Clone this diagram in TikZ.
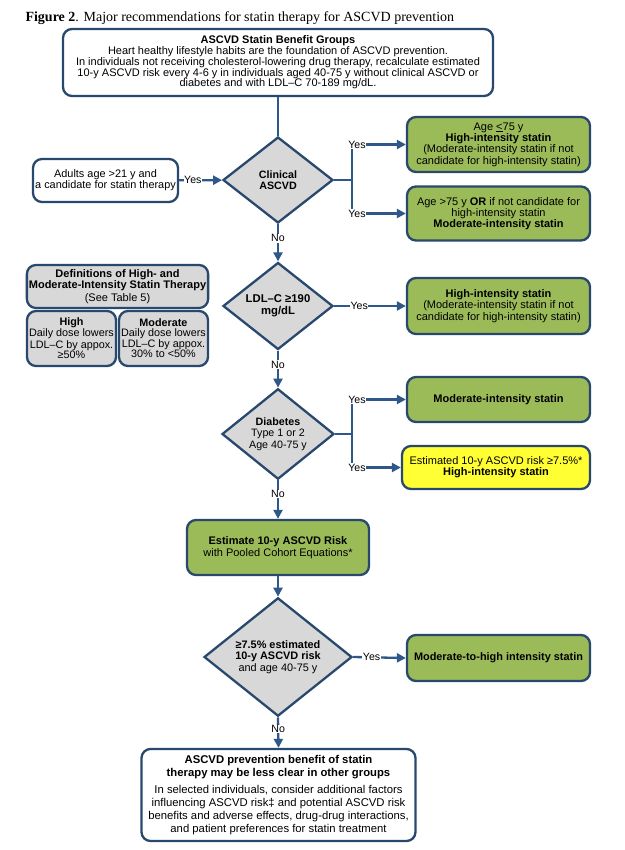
\documentclass[tikz,border=0pt]{standalone}
\usepackage{fontspec}
\setmainfont{Liberation Sans}
\newfontfamily\titlefont{Liberation Serif}
\usetikzlibrary{shapes.geometric, arrows.meta}
\definecolor{boxblue}{RGB}{40,72,110}
\definecolor{lineblue}{RGB}{46,88,138}
\definecolor{statgreen}{RGB}{155,187,89}
\definecolor{diagray}{RGB}{216,216,216}
\definecolor{riskyellow}{RGB}{255,255,51}
\newcommand{\boxfont}{\fontsize{10.9}{11.2}\selectfont}
\newcommand{\greenfont}{\fontsize{11}{11.2}\selectfont}
\newcommand{\decfont}{\fontsize{10.7}{11.4}\selectfont}
\tikzset{
	box/.style={draw=boxblue, line width=2.3pt, rounded corners=9pt, align=center, inner sep=2pt, font=\boxfont},
	whitebox/.style={box, fill=white},
	graybox/.style={box, fill=diagray},
	greenbox/.style={box, fill=statgreen, minimum width=183pt, font=\greenfont},
	yellowbox/.style={box, fill=riskyellow, font=\greenfont},
	decision/.style={diamond, draw=boxblue, line width=2.3pt, fill=diagray, inner sep=0pt, align=center, font=\decfont},
	flow/.style={draw=lineblue, line width=2.3pt},
	flowarrow/.style={flow, -{Triangle[length=9pt, width=9pt]}},
	lbl/.style={fill=white, inner sep=0.6pt, font=\fontsize{10.6}{11}\selectfont},
	forklbl/.style={lbl, pos=0.5, xshift=5pt}
}

\begin{document}
\begin{tikzpicture}[x=1pt, y=-1pt]
	\useasboundingbox[fill=white] (0,0) rectangle (624,850);
	\node[anchor=west, font=\titlefont\fontsize{14}{16}\selectfont] (title) at (22,18) {\textbf{Figure 2}. Major recommendations for statin therapy for ASCVD prevention};

	\node[whitebox, minimum width=430pt, minimum height=67pt, font=\fontsize{11}{10.8}\selectfont] (groups) at (278,62.5) {\textbf{ASCVD Statin Benefit Groups}\\Heart healthy lifestyle habits are the foundation of ASCVD prevention.\\In individuals not receiving cholesterol-lowering drug therapy, recalculate estimated\\10-y ASCVD risk every 4-6 y in individuals aged 40-75 y without clinical ASCVD or\\diabetes and with LDL–C 70-189 mg/dL.};
	\node[whitebox, minimum width=145pt, minimum height=43pt] (adults) at (105.5,180.5) {Adults age >21 y and\\a candidate for statin therapy};
	\node[decision, minimum width=110pt, minimum height=86pt] (clinical) at (278,180) {\textbf{Clinical}\\\textbf{ASCVD}};
	\node[greenbox, minimum height=55pt, font=\fontsize{11}{11.4}\selectfont] (highage) at (498.5,144.5) {Age \underline{<}75 y\\\textbf{High-intensity statin}\\(Moderate-intensity statin if not\\candidate for high-intensity statin)};
	\node[greenbox, minimum height=54pt] (modage) at (498.5,213.5) {Age >75 y \textbf{OR} if not candidate for\\high-intensity statin\\\textbf{Moderate-intensity statin}};

	\node[graybox, minimum width=181pt, minimum height=43pt, font=\fontsize{11}{10}\selectfont] (defs) at (117.5,286.5) {\textbf{Definitions of High- and}\\\textbf{Moderate-Intensity Statin Therapy}\\[1pt](See Table 5)};
	\node[graybox, minimum width=89pt, minimum height=55pt, inner sep=0.5pt, font=\fontsize{10.8}{9.2}\selectfont] (high) at (71.5,338.5) {\textbf{High}\\Daily dose lowers\\LDL–C by appox.\\≥50\%};
	\node[graybox, minimum width=89pt, minimum height=55pt, inner sep=0.5pt, font=\fontsize{10.8}{9.2}\selectfont] (moderate) at (163.5,338.5) {\textbf{Moderate}\\Daily dose lowers\\LDL–C by appox.\\30\% to <50\%};
	\node[decision, minimum width=110pt, minimum height=87pt, font=\fontsize{11.3}{12}\selectfont] (ldl) at (278,306) {\textbf{LDL–C ≥190}\\\textbf{mg/dL}};
	\node[greenbox, minimum height=56pt] (highldl) at (498.5,306) {\textbf{High-intensity statin}\\(Moderate-intensity statin if not\\candidate for high-intensity statin)};

	\node[decision, minimum width=112pt, minimum height=88pt] (diabetes) at (278,434) {\textbf{Diabetes}\\Type 1 or 2\\Age 40-75 y};
	\node[greenbox, minimum height=45pt] (moddiab) at (498.5,399.5) {\textbf{Moderate-intensity statin}};
	\node[yellowbox, minimum width=188pt, minimum height=43pt] (highdiab) at (496,467.5) {Estimated 10-y ASCVD risk ≥7.5\%*\\\textbf{High-intensity statin}};

	\node[greenbox, minimum width=182pt, minimum height=55pt, font=\fontsize{11}{11.4}\selectfont] (estimate) at (278,547.5) {\textbf{Estimate 10-y ASCVD Risk}\\with Pooled Cohort Equations*};
	\node[decision, minimum width=148pt, minimum height=118pt, font=\fontsize{10.9}{11.4}\selectfont] (risk) at (278,657) {\textbf{≥7.5\% estimated}\\\textbf{10-y ASCVD risk}\\and age 40-75 y};
	\node[greenbox, minimum height=46pt, font=\fontsize{10.9}{11}\selectfont] (modhigh) at (498.5,658) {\textbf{Moderate-to-high intensity statin}};
	\node[whitebox, minimum width=274pt, minimum height=92pt, font=\fontsize{11.3}{12.9}\selectfont] (other) at (278.5,795) {\textbf{ASCVD prevention benefit of statin}\\[0.4pt]\textbf{therapy may be less clear in other groups}\\[3.6pt]In selected individuals, consider additional factors\\influencing ASCVD risk‡ and potential ASCVD risk\\benefits and adverse effects, drug-drug interactions,\\and patient preferences for statin treatment};

	\coordinate (fork1) at (352,180);
	\coordinate (fork2) at (352,434);

	\draw[flow] (groups) -- (clinical);
	\draw[flowarrow] (adults) -- node[lbl, pos=0.32]{Yes} (clinical);
	\draw[flow] (clinical.east) -- (fork1);
	\draw[flowarrow] (fork1) |- node[forklbl]{Yes} (highage.west);
	\draw[flowarrow] (fork1) |- node[forklbl]{Yes} (modage.west);
	\draw[flowarrow] (clinical.south) -- node[lbl, pos=0.38]{No} (ldl.north);
	\draw[flowarrow] (ldl.east) -- node[lbl, pos=0.35]{Yes} (highldl.west);
	\draw[flowarrow] (ldl.south) -- node[lbl, pos=0.38]{No} (diabetes.north);
	\draw[flow] (diabetes.east) -- (fork2);
	\draw[flowarrow] (fork2) |- node[forklbl]{Yes} (moddiab.west);
	\draw[flowarrow] (fork2) |- node[forklbl]{Yes} (highdiab.west);
	\draw[flowarrow] (diabetes.south) -- node[lbl, pos=0.35]{No} (estimate.north);
	\draw[flowarrow] (estimate.south) -- (risk.north);
	\draw[flowarrow] (risk.east) -- node[lbl, pos=0.35]{Yes} (modhigh.west);
	\draw[flowarrow] (risk.south) -- node[lbl, pos=0.38]{No} (other.north);
\end{tikzpicture}
\end{document}
